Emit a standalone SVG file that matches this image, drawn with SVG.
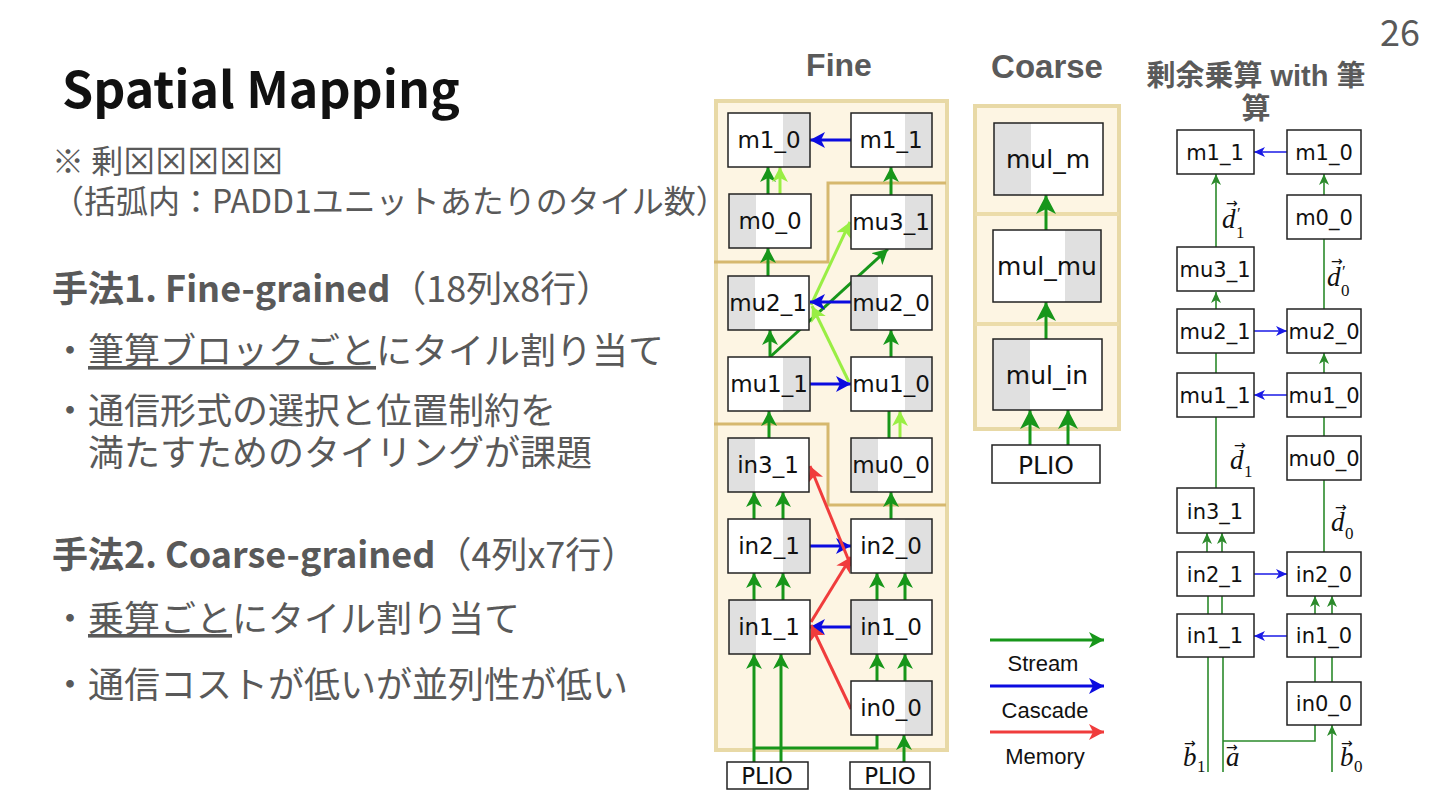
<svg xmlns="http://www.w3.org/2000/svg" width="1440" height="810" viewBox="0 0 1440 810">
<style>
.jp{font-family:"Noto Sans CJK JP","Noto Sans",sans-serif;fill:#595959}
.nb{fill:#fff;stroke:none}
.ng{fill:#e0e0e0;stroke:none}
.no{fill:none;stroke:#222;stroke-width:1.5}
.nt{font-family:"DejaVu Sans",sans-serif;font-size:23px;fill:#111;text-anchor:middle}
.ct{font-family:"DejaVu Sans",sans-serif;font-size:25px;fill:#111;text-anchor:middle}
.rt{font-family:"DejaVu Sans",sans-serif;font-size:21px;fill:#111;text-anchor:middle}
.hd{font-family:"Liberation Sans","Noto Sans CJK JP",sans-serif;font-weight:bold;fill:#5a5a5a;text-anchor:middle}
.g{stroke:#17961a;stroke-width:3;fill:none}
.lg{stroke:#99ee44;stroke-width:3;fill:none}
.b{stroke:#0b0be0;stroke-width:3;fill:none}
.r{stroke:#f03c3c;stroke-width:3;fill:none}
.rg{stroke:#2b8a2b;stroke-width:1.6;fill:none}
.rb{stroke:#1a1ae6;stroke-width:1.6;fill:none}
.m{font-family:"Liberation Serif",serif;font-style:italic;font-size:27px;fill:#111}
.ms{font-family:"Liberation Serif",serif;font-style:normal;font-size:17px}
.ma{font-family:"DejaVu Sans",sans-serif;font-style:normal;font-size:14px}
.lt{font-family:"Liberation Sans",sans-serif;font-size:22px;fill:#111;text-anchor:middle}
</style>
<defs>
<marker id="ag" markerUnits="userSpaceOnUse" markerWidth="16" markerHeight="16" refX="15" refY="8" orient="auto"><path d="M0,0 L15,8 L0,16 L4,8 z" fill="#17961a"/></marker>
<marker id="alg" markerUnits="userSpaceOnUse" markerWidth="16" markerHeight="16" refX="15" refY="8" orient="auto"><path d="M0,0 L15,8 L0,16 L4,8 z" fill="#99ee44"/></marker>
<marker id="ab" markerUnits="userSpaceOnUse" markerWidth="16" markerHeight="16" refX="15" refY="8" orient="auto"><path d="M0,0 L15,8 L0,16 L4,8 z" fill="#0b0be0"/></marker>
<marker id="ar" markerUnits="userSpaceOnUse" markerWidth="16" markerHeight="16" refX="15" refY="8" orient="auto"><path d="M0,0 L15,8 L0,16 L4,8 z" fill="#f03c3c"/></marker>
<marker id="agc" markerUnits="userSpaceOnUse" markerWidth="20" markerHeight="20" refX="19" refY="10" orient="auto"><path d="M0,0 L19,10 L0,20 L5,10 z" fill="#17961a"/></marker>
<marker id="arg" markerUnits="userSpaceOnUse" markerWidth="12" markerHeight="12" refX="11" refY="5" orient="auto"><path d="M0,0 L11,5 L0,10 L3,5 z" fill="#2b8a2b"/></marker>
<marker id="arb" markerUnits="userSpaceOnUse" markerWidth="12" markerHeight="12" refX="11" refY="5" orient="auto"><path d="M0,0 L11,5 L0,10 L3,5 z" fill="#1a1ae6"/></marker>
</defs>

<!-- page number and title -->
<text x="1420" y="46" font-family="Noto Sans CJK JP, sans-serif" font-size="36" fill="#595959" text-anchor="end">26</text>
<text x="62" y="108" font-family="Noto Sans CJK JP, sans-serif" font-weight="bold" font-size="50" fill="#111">Spatial Mapping</text>

<!-- left text -->
<g id="notes">
<text class="jp" x="52" y="173" font-size="32">※ 剰⊠⊠⊠⊠⊠</text>
<text class="jp" x="52" y="213" font-size="32">（括弧内：PADD1ユニットあたりのタイル数）</text>
<text class="jp" x="52" y="302" font-size="36"><tspan font-weight="bold">手法1. Fine-grained</tspan>（18列x8行）</text>
<text class="jp" x="52" y="364" font-size="36">・<tspan style="text-decoration:underline">筆算ブロックごと</tspan>にタイル割り当て</text>
<text class="jp" x="52" y="424" font-size="36">・通信形式の選択と位置制約を</text>
<text class="jp" x="88" y="466" font-size="36">満たすためのタイリングが課題</text>
<text class="jp" x="52" y="568" font-size="36"><tspan font-weight="bold">手法2. Coarse-grained</tspan>（4列x7行）</text>
<text class="jp" x="52" y="632" font-size="36">・<tspan style="text-decoration:underline">乗算ごと</tspan>にタイル割り当て</text>
<text class="jp" x="52" y="698" font-size="36">・通信コストが低いが並列性が低い</text>
</g>

<!-- headers -->
<text class="hd" x="839" y="76" font-size="32">Fine</text>
<text class="hd" x="1047" y="78" font-size="33">Coarse</text>
<text class="hd" x="1256" y="86" font-size="29">剰余乗算 with 筆</text>
<text class="hd" x="1256" y="119" font-size="29">算</text>

<!-- Fine panel background -->
<g id="fine-panel">
<rect x="716" y="101" width="231" height="649" fill="#fdf5e3" stroke="#e8d9a6" stroke-width="4"/>
<path d="M714,262 H828 V183 H946" fill="none" stroke="#d6b86e" stroke-width="3"/>
<path d="M714,424 H828 V505 H946" fill="none" stroke="#d6b86e" stroke-width="3"/>
</g>

<!-- Coarse panel background -->
<g id="coarse-panel">
<rect x="975" y="106" width="144" height="323" fill="#fdf5e3" stroke="#e8d9a6" stroke-width="4"/>
<line x1="975" y1="214" x2="1119" y2="214" stroke="#ecdcaa" stroke-width="4"/>
<line x1="975" y1="324" x2="1119" y2="324" stroke="#ecdcaa" stroke-width="4"/>
</g>

<!-- connectors -->
<g id="connectors">
<!-- Fine: stream -->
<line class="g" x1="768" y1="194" x2="768" y2="167" marker-end="url(#ag)"/>
<line class="lg" x1="780" y1="194" x2="780" y2="167" marker-end="url(#alg)"/>
<line class="g" x1="891" y1="195" x2="891" y2="167" marker-end="url(#ag)"/>
<line class="g" x1="768" y1="276" x2="768" y2="248" marker-end="url(#ag)"/>
<line class="g" x1="770" y1="357" x2="770" y2="330" marker-end="url(#ag)"/>
<line class="g" x1="770" y1="357" x2="888" y2="249" marker-end="url(#ag)"/>
<line class="g" x1="891" y1="357" x2="891" y2="330" marker-end="url(#ag)"/>
<line class="g" x1="889" y1="438" x2="889" y2="411"/>
<line class="lg" x1="900" y1="438" x2="900" y2="411" marker-end="url(#alg)"/>
<line class="lg" x1="849" y1="382" x2="812" y2="306" marker-end="url(#alg)"/>
<line class="lg" x1="811" y1="305" x2="850" y2="222" marker-end="url(#alg)"/>
<line class="g" x1="769" y1="438" x2="769" y2="411" marker-end="url(#ag)"/>
<line class="g" x1="754" y1="519" x2="754" y2="492" marker-end="url(#ag)"/>
<line class="g" x1="783" y1="519" x2="783" y2="492" marker-end="url(#ag)"/>
<line class="g" x1="891" y1="519" x2="891" y2="492" marker-end="url(#ag)"/>
<line class="g" x1="754" y1="600" x2="754" y2="573" marker-end="url(#ag)"/>
<line class="g" x1="783" y1="600" x2="783" y2="573" marker-end="url(#ag)"/>
<line class="g" x1="877" y1="600" x2="877" y2="573" marker-end="url(#ag)"/>
<line class="g" x1="905" y1="600" x2="905" y2="573" marker-end="url(#ag)"/>
<line class="g" x1="877" y1="681" x2="877" y2="654" marker-end="url(#ag)"/>
<line class="g" x1="905" y1="681" x2="905" y2="654" marker-end="url(#ag)"/>
<line class="g" x1="754" y1="762" x2="754" y2="654" marker-end="url(#ag)"/>
<line class="g" x1="781" y1="762" x2="781" y2="654" marker-end="url(#ag)"/>
<line class="g" x1="904" y1="762" x2="904" y2="735" marker-end="url(#ag)"/>
<polyline class="g" points="877,735 877,748 754,748"/>
<!-- Fine: cascade -->
<line class="b" x1="851" y1="140" x2="810" y2="140" marker-end="url(#ab)"/>
<line class="b" x1="851" y1="302" x2="810" y2="302" marker-end="url(#ab)"/>
<line class="b" x1="810" y1="384" x2="851" y2="384" marker-end="url(#ab)"/>
<line class="b" x1="810" y1="546" x2="851" y2="546" marker-end="url(#ab)"/>
<line class="b" x1="851" y1="627" x2="810" y2="627" marker-end="url(#ab)"/>
<!-- Fine: memory -->
<line class="r" x1="851" y1="566" x2="810" y2="466" marker-end="url(#ar)"/>
<line class="r" x1="811" y1="622" x2="851" y2="557" marker-end="url(#ar)"/>
<line class="r" x1="851" y1="709" x2="811" y2="625" marker-end="url(#ar)"/>

<!-- Coarse -->
<line class="g" stroke-width="4" x1="1046" y1="230" x2="1046" y2="195" marker-end="url(#agc)"/>
<line class="g" stroke-width="4" x1="1046" y1="339" x2="1046" y2="302" marker-end="url(#agc)"/>
<line class="g" stroke-width="4" x1="1030" y1="445" x2="1030" y2="410" marker-end="url(#agc)"/>
<line class="g" stroke-width="4" x1="1068" y1="445" x2="1068" y2="410" marker-end="url(#agc)"/>

<!-- Legend -->
<line class="g" x1="990" y1="640" x2="1104" y2="640" marker-end="url(#ag)"/>
<line class="b" x1="990" y1="686" x2="1104" y2="686" marker-end="url(#ab)"/>
<line class="r" x1="990" y1="732" x2="1104" y2="732" marker-end="url(#ar)"/>

<!-- Right panel -->
<line class="rg" x1="1324" y1="195" x2="1324" y2="174" marker-end="url(#arg)"/>
<line class="rg" x1="1216" y1="247" x2="1216" y2="174" marker-end="url(#arg)"/>
<line class="rg" x1="1324" y1="309" x2="1324" y2="239"/>
<line class="rg" x1="1216" y1="309" x2="1216" y2="292" marker-end="url(#arg)"/>
<line class="rg" x1="1216" y1="373" x2="1216" y2="353"/>
<line class="rg" x1="1324" y1="373" x2="1324" y2="353" marker-end="url(#arg)"/>
<line class="rg" x1="1324" y1="436" x2="1324" y2="417"/>
<line class="rg" x1="1216" y1="488" x2="1216" y2="417"/>
<line class="rg" x1="1324" y1="552" x2="1324" y2="480"/>
<line class="rg" x1="1207" y1="552" x2="1207" y2="533" marker-end="url(#arg)"/>
<line class="rg" x1="1222" y1="552" x2="1222" y2="533" marker-end="url(#arg)"/>
<line class="rg" x1="1208" y1="614" x2="1208" y2="596"/>
<line class="rg" x1="1222" y1="614" x2="1222" y2="596"/>
<line class="rg" x1="1315" y1="614" x2="1315" y2="596" marker-end="url(#arg)"/>
<line class="rg" x1="1332" y1="614" x2="1332" y2="596" marker-end="url(#arg)"/>
<line class="rg" x1="1315" y1="682" x2="1315" y2="657"/>
<line class="rg" x1="1332" y1="682" x2="1332" y2="657"/>
<line class="rg" x1="1208" y1="657" x2="1208" y2="772"/>
<line class="rg" x1="1223" y1="657" x2="1223" y2="772"/>
<polyline class="rg" points="1223,741 1315,741 1315,725"/>
<line class="rg" stroke-width="2.2" x1="1332" y1="772" x2="1332" y2="725" marker-end="url(#arg)"/>
<line class="rb" x1="1287" y1="152" x2="1254" y2="152" marker-end="url(#arb)"/>
<line class="rb" x1="1254" y1="331" x2="1287" y2="331" marker-end="url(#arb)"/>
<line class="rb" x1="1287" y1="395" x2="1254" y2="395" marker-end="url(#arb)"/>
<line class="rb" x1="1254" y1="574" x2="1287" y2="574" marker-end="url(#arb)"/>
<line class="rb" x1="1287" y1="636" x2="1254" y2="636" marker-end="url(#arb)"/>
</g>

<!-- Fine nodes -->
<g id="f-m1_0"><rect class="nb" x="728" y="113" width="82" height="54"/><rect class="ng" x="783" y="113" width="27" height="54"/><rect class="no" x="728" y="113" width="82" height="54"/><text class="nt" x="769" y="148">m1_0</text></g>
<g id="f-m1_1"><rect class="nb" x="851" y="113" width="81" height="54"/><rect class="ng" x="905" y="113" width="27" height="54"/><rect class="no" x="851" y="113" width="81" height="54"/><text class="nt" x="891" y="148">m1_1</text></g>
<g id="f-m0_0"><rect class="nb" x="729" y="194" width="82" height="54"/><rect class="ng" x="729" y="194" width="27" height="54"/><rect class="no" x="729" y="194" width="82" height="54"/><text class="nt" x="770" y="229">m0_0</text></g>
<g id="f-mu3_1"><rect class="nb" x="851" y="195" width="81" height="54"/><rect class="ng" x="905" y="195" width="27" height="54"/><rect class="no" x="851" y="195" width="81" height="54"/><text class="nt" x="891" y="230">mu3_1</text></g>
<g id="f-mu2_1"><rect class="nb" x="728" y="276" width="81" height="54"/><rect class="ng" x="728" y="276" width="27" height="54"/><rect class="no" x="728" y="276" width="81" height="54"/><text class="nt" x="768" y="311">mu2_1</text></g>
<g id="f-mu2_0"><rect class="nb" x="851" y="276" width="81" height="54"/><rect class="ng" x="851" y="276" width="27" height="54"/><rect class="no" x="851" y="276" width="81" height="54"/><text class="nt" x="891" y="311">mu2_0</text></g>
<g id="f-mu1_1"><rect class="nb" x="728" y="357" width="82" height="54"/><rect class="ng" x="783" y="357" width="27" height="54"/><rect class="no" x="728" y="357" width="82" height="54"/><text class="nt" x="769" y="392">mu1_1</text></g>
<g id="f-mu1_0"><rect class="nb" x="851" y="357" width="81" height="54"/><rect class="ng" x="905" y="357" width="27" height="54"/><rect class="no" x="851" y="357" width="81" height="54"/><text class="nt" x="891" y="392">mu1_0</text></g>
<g id="f-in3_1"><rect class="nb" x="728" y="438" width="81" height="54"/><rect class="ng" x="728" y="438" width="27" height="54"/><rect class="no" x="728" y="438" width="81" height="54"/><text class="nt" x="768" y="473">in3_1</text></g>
<g id="f-mu0_0"><rect class="nb" x="851" y="438" width="81" height="54"/><rect class="ng" x="851" y="438" width="27" height="54"/><rect class="no" x="851" y="438" width="81" height="54"/><text class="nt" x="891" y="473">mu0_0</text></g>
<g id="f-in2_1"><rect class="nb" x="728" y="519" width="82" height="54"/><rect class="ng" x="783" y="519" width="27" height="54"/><rect class="no" x="728" y="519" width="82" height="54"/><text class="nt" x="769" y="554">in2_1</text></g>
<g id="f-in2_0"><rect class="nb" x="851" y="519" width="81" height="54"/><rect class="ng" x="905" y="519" width="27" height="54"/><rect class="no" x="851" y="519" width="81" height="54"/><text class="nt" x="891" y="554">in2_0</text></g>
<g id="f-in1_1"><rect class="nb" x="729" y="600" width="81" height="54"/><rect class="ng" x="729" y="600" width="27" height="54"/><rect class="no" x="729" y="600" width="81" height="54"/><text class="nt" x="769" y="635">in1_1</text></g>
<g id="f-in1_0"><rect class="nb" x="851" y="600" width="81" height="54"/><rect class="ng" x="851" y="600" width="27" height="54"/><rect class="no" x="851" y="600" width="81" height="54"/><text class="nt" x="891" y="635">in1_0</text></g>
<g id="f-in0_0"><rect class="nb" x="851" y="681" width="81" height="54"/><rect class="ng" x="905" y="681" width="27" height="54"/><rect class="no" x="851" y="681" width="81" height="54"/><text class="nt" x="891" y="716">in0_0</text></g>
<g id="f-plio1"><rect class="nb" x="727" y="762" width="81" height="27"/><rect class="no" x="727" y="762" width="81" height="27"/><text class="nt" x="767" y="784" font-size="22">PLIO</text></g>
<g id="f-plio0"><rect class="nb" x="850" y="762" width="80" height="27"/><rect class="no" x="850" y="762" width="80" height="27"/><text class="nt" x="890" y="784" font-size="22">PLIO</text></g>

<!-- Coarse nodes -->
<g id="c-mul_m"><rect class="nb" x="994" y="123" width="109" height="72"/><rect class="ng" x="994" y="123" width="37" height="72"/><rect class="no" x="994" y="123" width="109" height="72"/><text class="ct" x="1048" y="168">mul_m</text></g>
<g id="c-mul_mu"><rect class="nb" x="993" y="230" width="108" height="72"/><rect class="ng" x="1065" y="230" width="36" height="72"/><rect class="no" x="993" y="230" width="108" height="72"/><text class="ct" x="1047" y="275">mul_mu</text></g>
<g id="c-mul_in"><rect class="nb" x="993" y="339" width="109" height="71"/><rect class="ng" x="993" y="339" width="37" height="71"/><rect class="no" x="993" y="339" width="109" height="71"/><text class="ct" x="1047" y="384">mul_in</text></g>
<g id="c-plio"><rect class="nb" x="992" y="445" width="108" height="38"/><rect class="no" x="992" y="445" width="108" height="38"/><text class="ct" x="1046" y="474" font-size="26">PLIO</text></g>

<!-- Legend labels -->
<g id="legend">
<text class="lt" x="1043" y="671">Stream</text>
<text class="lt" x="1045" y="718">Cascade</text>
<text class="lt" x="1045" y="764">Memory</text>
</g>

<!-- Right panel nodes -->
<g id="r-m1_1"><rect class="nb" x="1177" y="130" width="77" height="44"/><rect class="no" x="1177" y="130" width="77" height="44"/><text class="rt" x="1215" y="160">m1_1</text></g>
<g id="r-m1_0"><rect class="nb" x="1287" y="130" width="74" height="44"/><rect class="no" x="1287" y="130" width="74" height="44"/><text class="rt" x="1324" y="160">m1_0</text></g>
<g id="r-m0_0"><rect class="nb" x="1287" y="195" width="74" height="44"/><rect class="no" x="1287" y="195" width="74" height="44"/><text class="rt" x="1324" y="225">m0_0</text></g>
<g id="r-mu3_1"><rect class="nb" x="1177" y="247" width="77" height="44"/><rect class="no" x="1177" y="247" width="77" height="44"/><text class="rt" x="1215" y="277">mu3_1</text></g>
<g id="r-mu2_1"><rect class="nb" x="1177" y="309" width="77" height="44"/><rect class="no" x="1177" y="309" width="77" height="44"/><text class="rt" x="1215" y="339">mu2_1</text></g>
<g id="r-mu2_0"><rect class="nb" x="1287" y="309" width="74" height="44"/><rect class="no" x="1287" y="309" width="74" height="44"/><text class="rt" x="1324" y="339">mu2_0</text></g>
<g id="r-mu1_1"><rect class="nb" x="1177" y="373" width="77" height="44"/><rect class="no" x="1177" y="373" width="77" height="44"/><text class="rt" x="1215" y="403">mu1_1</text></g>
<g id="r-mu1_0"><rect class="nb" x="1287" y="373" width="74" height="44"/><rect class="no" x="1287" y="373" width="74" height="44"/><text class="rt" x="1324" y="403">mu1_0</text></g>
<g id="r-mu0_0"><rect class="nb" x="1287" y="436" width="74" height="44"/><rect class="no" x="1287" y="436" width="74" height="44"/><text class="rt" x="1324" y="466">mu0_0</text></g>
<g id="r-in3_1"><rect class="nb" x="1177" y="488" width="77" height="45"/><rect class="no" x="1177" y="488" width="77" height="45"/><text class="rt" x="1215" y="519">in3_1</text></g>
<g id="r-in2_1"><rect class="nb" x="1177" y="552" width="77" height="44"/><rect class="no" x="1177" y="552" width="77" height="44"/><text class="rt" x="1215" y="582">in2_1</text></g>
<g id="r-in2_0"><rect class="nb" x="1287" y="552" width="74" height="44"/><rect class="no" x="1287" y="552" width="74" height="44"/><text class="rt" x="1324" y="582">in2_0</text></g>
<g id="r-in1_1"><rect class="nb" x="1177" y="614" width="77" height="43"/><rect class="no" x="1177" y="614" width="77" height="43"/><text class="rt" x="1215" y="643">in1_1</text></g>
<g id="r-in1_0"><rect class="nb" x="1287" y="614" width="74" height="43"/><rect class="no" x="1287" y="614" width="74" height="43"/><text class="rt" x="1324" y="643">in1_0</text></g>
<g id="r-in0_0"><rect class="nb" x="1287" y="682" width="74" height="43"/><rect class="no" x="1287" y="682" width="74" height="43"/><text class="rt" x="1324" y="711">in0_0</text></g>

<!-- math labels -->
<g id="math">
<text class="m" x="1222" y="228"><tspan class="ma" x="1226" y="208">→</tspan><tspan x="1222" y="228">d</tspan><tspan class="ms" x="1237" y="219">′</tspan><tspan class="ms" x="1236" y="238">1</tspan></text>
<text class="m" x="1327" y="286"><tspan class="ma" x="1331" y="266">→</tspan><tspan x="1327" y="286">d</tspan><tspan class="ms" x="1342" y="277">′</tspan><tspan class="ms" x="1341" y="296">0</tspan></text>
<text class="m" x="1230" y="469"><tspan class="ma" x="1234" y="450">→</tspan><tspan x="1230" y="469">d</tspan><tspan class="ms" x="1244" y="477">1</tspan></text>
<text class="m" x="1331" y="531"><tspan class="ma" x="1335" y="512">→</tspan><tspan x="1331" y="531">d</tspan><tspan class="ms" x="1345" y="539">0</tspan></text>
<text class="m" x="1183" y="766"><tspan class="ma" x="1184" y="748">→</tspan><tspan x="1183" y="766">b</tspan><tspan class="ms" x="1197" y="772">1</tspan></text>
<text class="m" x="1226" y="766"><tspan class="ma" x="1226" y="752">→</tspan><tspan x="1226" y="766">a</tspan></text>
<text class="m" x="1340" y="766"><tspan class="ma" x="1341" y="748">→</tspan><tspan x="1340" y="766">b</tspan><tspan class="ms" x="1354" y="772">0</tspan></text>
</g>
</svg>
